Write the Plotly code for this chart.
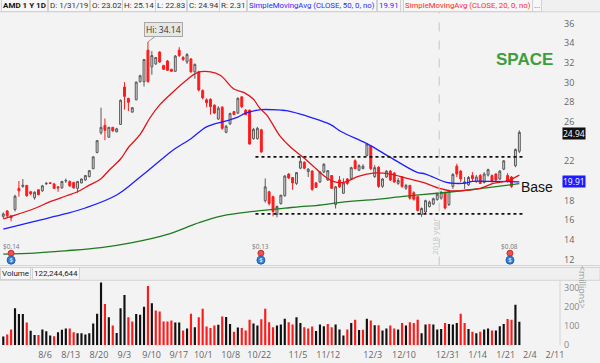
import plotly.graph_objects as go

# ---------------- data ----------------
opens = [16.40, 16.95, 16.45, 17.10, 19.25, 19.45, 19.55, 18.90, 18.30, 19.10,
         19.00, 19.70, 19.80, 19.70, 19.40, 19.30, 20.00, 19.95, 19.85, 19.25,
         19.80, 20.10, 20.45, 21.25, 22.90, 24.90, 25.65, 24.45, 25.45, 25.00,
         25.75, 29.55, 28.40, 27.00, 28.25, 30.10, 30.10, 33.30, 31.60, 31.90,
         33.10, 31.75, 32.20, 31.35, 31.15, 33.30, 32.55, 32.10, 32.40, 31.10,
         31.10, 29.20, 28.25, 28.30, 27.70, 26.30, 27.50, 24.95, 25.80, 27.05,
         26.90, 28.55, 27.20, 27.20, 24.30, 24.30, 25.20, 18.00, 18.90, 18.40,
         16.60, 17.70, 18.50, 20.70, 20.35, 19.75, 21.30, 21.90, 20.95, 21.00,
         19.80, 19.90, 20.90, 20.10, 20.55, 17.60, 20.10, 18.75, 20.20, 20.25,
         22.05, 21.10, 21.25, 22.60, 23.55, 20.45, 21.40, 19.45, 20.40, 21.00,
         20.80, 19.75, 20.40, 19.25, 19.55, 18.80, 18.40, 16.60, 16.85, 17.40,
         17.65, 18.10, 18.25, 18.80, 17.60, 19.45, 21.50, 21.00, 19.75, 19.60,
         20.55, 19.95, 20.55, 19.85, 20.60, 20.55, 20.70, 20.20, 21.20, 20.55,
         20.40, 21.55, 23.02]
highs = [16.80, 17.05, 16.50, 18.60, 20.00, 20.20, 19.60, 19.00, 18.95, 19.15,
         19.60, 19.90, 19.90, 19.80, 19.45, 20.00, 20.25, 20.05, 19.90, 20.00,
         20.25, 20.60, 21.10, 22.50, 24.15, 27.45, 26.35, 25.50, 25.50, 25.40,
         28.30, 30.05, 28.45, 27.50, 30.10, 30.80, 32.40, 34.14, 33.20, 32.60,
         33.20, 31.80, 32.30, 31.40, 32.80, 33.60, 32.70, 33.00, 32.50, 31.95,
         31.20, 29.30, 28.40, 28.40, 27.80, 27.60, 27.60, 25.70, 26.95, 27.10,
         28.50, 28.60, 27.30, 27.25, 25.40, 25.50, 25.30, 20.25, 19.00, 18.50,
         17.50, 18.60, 20.60, 20.80, 20.40, 20.90, 22.40, 22.00, 21.30, 21.10,
         19.90, 21.00, 21.80, 21.10, 20.60, 19.50, 20.50, 20.25, 20.30, 21.45,
         22.20, 21.70, 21.70, 23.85, 23.60, 21.60, 21.50, 20.30, 21.10, 21.10,
         20.90, 20.30, 20.50, 19.70, 19.60, 18.95, 18.50, 17.30, 18.10, 18.00,
         18.30, 18.80, 19.00, 18.90, 19.10, 20.80, 21.75, 21.10, 20.40, 20.50,
         20.90, 20.60, 20.70, 20.90, 21.25, 20.65, 20.80, 21.10, 22.10, 20.80,
         20.50, 23.30, 25.14]
lows = [16.20, 16.30, 15.90, 16.90, 18.40, 19.30, 18.40, 18.55, 18.10, 18.55,
        18.90, 19.60, 19.70, 19.20, 18.90, 19.20, 19.80, 19.40, 19.20, 18.80,
        19.75, 20.00, 20.35, 21.20, 22.80, 24.70, 24.15, 24.40, 25.00, 24.95,
        25.70, 27.25, 27.10, 26.95, 28.20, 30.00, 29.60, 30.00, 30.80, 31.80,
        32.00, 31.30, 31.20, 31.10, 31.10, 32.60, 32.20, 31.90, 31.00, 30.40,
        29.10, 28.30, 27.50, 26.75, 26.80, 26.20, 25.20, 24.85, 25.70, 26.70,
        26.80, 27.40, 26.70, 23.70, 24.20, 24.20, 22.85, 17.80, 17.50, 16.40,
        16.30, 17.60, 18.40, 20.20, 19.10, 19.60, 21.20, 21.20, 20.40, 19.00,
        19.30, 19.80, 20.80, 20.00, 19.20, 17.20, 19.30, 18.70, 19.60, 20.10,
        21.20, 21.00, 21.20, 22.50, 21.10, 20.30, 19.30, 19.30, 20.30, 20.00,
        19.80, 19.60, 19.30, 19.10, 18.10, 18.00, 16.90, 16.35, 16.70, 17.30,
        17.55, 18.00, 18.10, 17.10, 17.45, 19.20, 20.40, 19.90, 19.20, 19.50,
        19.95, 19.80, 19.70, 19.75, 20.45, 19.80, 19.90, 20.10, 21.10, 19.85,
        19.30, 21.40, 22.83]
closes = [16.65, 16.45, 16.25, 18.45, 19.00, 19.55, 18.50, 18.70, 18.85, 18.60,
          19.50, 19.75, 19.75, 19.25, 19.30, 19.95, 20.05, 19.50, 19.30, 19.95,
          20.20, 20.55, 21.05, 22.45, 24.10, 25.45, 25.15, 25.45, 25.10, 25.30,
          28.20, 28.60, 28.00, 27.45, 30.05, 30.70, 32.35, 30.10, 32.75, 32.55,
          32.10, 31.35, 31.25, 31.15, 32.70, 32.75, 32.35, 32.85, 31.10, 31.85,
          29.25, 28.45, 27.95, 27.55, 26.90, 27.40, 25.35, 25.55, 26.85, 26.75,
          28.40, 27.55, 26.75, 23.75, 25.25, 25.35, 22.95, 19.40, 17.70, 16.90,
          17.40, 18.55, 20.50, 20.30, 19.80, 20.85, 22.00, 21.30, 21.20, 19.15,
          19.35, 20.90, 21.70, 21.05, 19.25, 19.40, 19.40, 19.80, 19.75, 21.35,
          21.25, 21.55, 21.50, 23.75, 21.25, 21.35, 19.45, 20.20, 21.00, 20.10,
          19.90, 20.05, 19.45, 19.55, 18.25, 18.15, 17.00, 17.20, 18.00, 17.85,
          18.20, 18.65, 18.85, 17.25, 19.00, 20.65, 20.70, 20.20, 19.90, 20.35,
          20.25, 20.40, 19.75, 20.70, 21.15, 19.95, 20.10, 21.00, 22.05, 19.95,
          19.45, 23.20, 24.94]
volumes = [45, 56, 82, 193, 162, 162, 118, 75, 53, 53,
           82, 72, 51, 46, 67, 80, 87, 87, 67, 62,
           62, 56, 62, 113, 164, 327, 215, 145, 102, 63,
           193, 261, 145, 123, 162, 158, 200, 308, 219, 181,
           176, 123, 123, 128, 118, 118, 77, 87, 164, 94,
           145, 190, 97, 89, 102, 106, 149, 147, 111, 70,
           92, 89, 77, 133, 113, 102, 135, 190, 120, 94,
           102, 108, 138, 120, 108, 145, 116, 94, 87, 97,
           74, 108, 99, 111, 94, 108, 82, 51, 82, 116,
           133, 79, 80, 138, 128, 104, 104, 77, 87, 103,
           87, 82, 116, 103, 120, 116, 132, 62, 108, 111,
           108, 82, 85, 116, 111, 108, 116, 164, 116, 85,
           70, 62, 70, 82, 87, 77, 77, 99, 111, 136,
           132, 210, 122]

# moving averages, sampled along the drawn curves (bar index, value)
sma20_idx = [0, 2, 8, 12, 16, 19, 22, 25, 27, 30, 32, 35, 37.5, 40, 43, 47, 49.5, 53,
             55.5, 59, 61.5, 64, 65.6, 67.4, 70.8, 73.3, 76.7, 79.3, 81.8, 84.4, 87,
             91, 94.6, 99, 103, 107.4, 111.7, 114.3, 118.5, 122, 125.3, 128.8, 132]
sma20_val = [16.15, 16.4, 17.2, 17.9, 18.47, 18.9, 19.57, 20.23, 21.07, 22.23, 23.4,
             24.73, 26.4, 27.73, 28.9, 30.3, 31.0, 31.1, 30.75, 29.35, 29.0, 28.3,
             27.4, 26.7, 24.55, 23.5, 22.4, 21.5, 20.6, 19.95, 19.85, 20.5, 20.8,
             20.7, 20.3, 19.85, 19.23, 19.0, 19.05, 19.25, 19.75, 20.0, 20.6]
sma50_idx = [0, 8, 16, 21, 29, 35, 42, 44, 48, 52, 57, 60, 62, 66, 71, 72.5, 76,
             78.4, 83.6, 86.5, 93, 99, 105.7, 108, 113.4, 115.5, 118.5, 120, 125, 132]
sma50_val = [15.1, 15.9, 16.67, 17.25, 18.57, 20.4, 22.7, 23.3, 24.3, 25.5, 26.1,
             26.5, 26.9, 27.25, 27.2, 27.15, 26.8, 26.5, 25.75, 25.0, 23.8, 22.4,
             20.9, 20.7, 19.85, 19.75, 19.8, 19.95, 19.95, 19.91]
sma200_idx = [0, 8, 16, 25, 33, 42, 48, 50, 56, 64, 72, 76, 80, 88, 94, 103, 111, 120, 132]
sma200_val = [12.57, 12.67, 12.9, 13.23, 13.73, 14.57, 15.45, 15.75, 16.45, 16.9,
              17.23, 17.4, 17.5, 17.9, 18.07, 18.45, 18.75, 19.13, 19.73]

base_levels = [22.45, 16.65]
base_span = [64.5, 133.2]

# earnings events (bar index, label)
earn_idx = [2, 65.9, 129.6]
earn_text = ["$0.14", "$0.13", "$0.08"]

tick_idx = [10.67, 17.24, 24.48, 30.95, 37.95, 44.9, 51.15, 58.16, 65.48, 75.37,
            83.12, 94.5, 102.5, 113.66, 121.33, 128.5, 134.7, 141.1]
tick_text = ["8/6", "8/13", "8/20", "9/3", "9/10", "9/17", "10/1", "10/8", "10/22",
             "11/5", "11/12", "12/3", "12/10", "12/31", "1/14", "1/21", "2/4", "2/11"]

# 20 and 24 are hidden behind the value bubbles in the reference
price_ticks = [12, 14, 16, 18, 22, 26, 28, 30, 32, 34, 36]
vol_ticks = [0, 100, 200, 300]

# ---------------- figure ----------------
W, H = 600, 363
PLOT_R = 560
idx = list(range(len(closes)))
vol_colors = ["#111111"] + ["#111111" if closes[i] >= closes[i - 1] else "#ff1a1a"
                            for i in range(1, len(closes))]

def py(px):
    return 1 - px / H

def pxx(px):
    return px / PLOT_R

FONT = "Open Sans"
HFONT = "Roboto"
fig = go.Figure()

fig.add_trace(go.Scatter(x=sma200_idx, y=sma200_val, mode="lines",
                         line=dict(color="#1f7a1f", width=1.3, shape="spline"),
                         hoverinfo="skip", showlegend=False))
fig.add_trace(go.Scatter(x=sma50_idx, y=sma50_val, mode="lines",
                         line=dict(color="#1f1fff", width=1.3, shape="spline"),
                         hoverinfo="skip", showlegend=False))
fig.add_trace(go.Scatter(x=sma20_idx, y=sma20_val, mode="lines",
                         line=dict(color="#e0141b", width=1.3, shape="spline"),
                         hoverinfo="skip", showlegend=False))
for lvl in base_levels:
    fig.add_trace(go.Scatter(x=base_span, y=[lvl, lvl], mode="lines",
                             line=dict(color="#111111", width=1.6, dash="dot"),
                             hoverinfo="skip", showlegend=False))

fig.add_trace(go.Candlestick(
    x=idx, open=opens, high=highs, low=lows, close=closes,
    increasing=dict(line=dict(color="#5a5a5a", width=1), fillcolor="#d8d8d8"),
    decreasing=dict(line=dict(color="#ff1a1a", width=1), fillcolor="#ff1a1a"),
    whiskerwidth=0, showlegend=False, xaxis="x", yaxis="y"))

fig.add_trace(go.Scatter(x=earn_idx, y=[12.65] * len(earn_idx), mode="markers",
                         marker=dict(color="#f05050", size=6, line=dict(color="#c03030", width=1)),
                         hoverinfo="skip", showlegend=False))
fig.add_trace(go.Scatter(x=earn_idx, y=[11.95] * len(earn_idx), mode="markers+text",
                         marker=dict(color="#3a7fd0", size=8, line=dict(color="#2060b0", width=1)),
                         text=["$"] * len(earn_idx), textposition="middle center",
                         textfont=dict(size=6, color="white", family=FONT),
                         hoverinfo="skip", showlegend=False, cliponaxis=False))

fig.add_trace(go.Bar(x=idx, y=volumes, marker=dict(color=vol_colors, line=dict(width=0)),
                     xaxis="x2", yaxis="y2", showlegend=False))

x_range = [-0.84, 142.4]
price_dom = [py(270), py(12)]
vol_dom = [py(351), py(285)]

fig.update_layout(
    width=W, height=H,
    margin=dict(l=0, r=W - PLOT_R, t=0, b=0),
    paper_bgcolor="#f3f3f3", plot_bgcolor="#f3f3f3",
    font=dict(family=FONT, size=9, color="#555555"),
    bargap=0.45, boxgap=0.3,
    xaxis=dict(domain=[0, 1], range=x_range, anchor="y", showticklabels=False,
               showgrid=False, zeroline=False, rangeslider=dict(visible=False),
               fixedrange=True),
    yaxis=dict(domain=price_dom, range=[11.4, 37.2], side="right", anchor="x",
               tickvals=price_ticks, showgrid=False, zeroline=False,
               tickfont=dict(size=9, color="#666666"), ticks="", ticklabelstandoff=3),
    xaxis2=dict(domain=[0, 1], range=x_range, anchor="y2", matches="x",
                tickvals=tick_idx, ticktext=tick_text, showgrid=False, zeroline=False,
                tickfont=dict(size=9, color="#666666"), ticks="", ticklabelstandoff=3),
    yaxis2=dict(domain=vol_dom, range=[0, 338], side="right", anchor="x2",
                tickvals=vol_ticks, showgrid=False, zeroline=False,
                tickfont=dict(size=9, color="#888888"), ticks="", ticklabelstandoff=3),
)

shapes = []
shapes.append(dict(type="line", xref="x", yref="paper", x0=111.5, x1=111.5,
                   y0=price_dom[0], y1=price_dom[1],
                   line=dict(color="#c6c6c6", width=1, dash="dash")))
shapes.append(dict(type="rect", xref="paper", yref="paper", x0=0, x1=W / PLOT_R,
                   y0=py(12), y1=1, fillcolor="#f0f0f0", line=dict(width=0), layer="below"))
shapes.append(dict(type="line", xref="paper", yref="paper", x0=0, x1=W / PLOT_R,
                   y0=py(12), y1=py(12), line=dict(color="#d4d4d4", width=1)))
shapes.append(dict(type="line", xref="paper", yref="paper", x0=0, x1=W / PLOT_R,
                   y0=py(270), y1=py(270), line=dict(color="#d4d4d4", width=1)))
shapes.append(dict(type="rect", xref="paper", yref="paper", x0=0, x1=W / PLOT_R,
                   y0=py(285), y1=py(272), fillcolor="#f0f0f0",
                   line=dict(color="#d4d4d4", width=1)))
shapes.append(dict(type="line", xref="paper", yref="paper", x0=1, x1=1,
                   y0=py(351), y1=py(285), line=dict(color="#d4d4d4", width=1)))
fig.update_layout(shapes=shapes)

ann = []
def box(text, left, ypx, color="#333333", bold=False, size=8):
    t = "<b>%s</b>" % text if bold else text
    ann.append(dict(text=t, xref="paper", yref="paper", x=pxx(left), y=py(ypx),
                    xanchor="left", yanchor="middle", showarrow=False,
                    font=dict(family=HFONT, size=size, color=color),
                    bgcolor="#f7f7f7", bordercolor="#d2d2d2", borderwidth=1, borderpad=1))

hdr_y = 6
box("AMD 1 Y 1D", 1, hdr_y, "#111111", bold=True)
box("D: 1/31/19", 48, hdr_y)
box("O: 23.02", 90, hdr_y)
box("H: 25.14", 122, hdr_y)
box("L: 22.83", 155, hdr_y)
box("C: 24.94", 187, hdr_y)
box("R: 2.31", 219, hdr_y)
box("SimpleMovingAvg (CLOSE, 50, 0, no)", 247, hdr_y, "#2a2aff", size=7.8)
box("19.91", 377, hdr_y, "#2a2aff", size=7.8)
box("SimpleMovingAvg (CLOSE, 20, 0, no)", 403, hdr_y, "#ff2a2a", size=7.8)
box("...", 532, hdr_y, "#555555")

box("Volume", 0, 278.5, "#222222")
box("122,244,644", 32, 278.5, "#222222")

ann.append(dict(text="24.94", xref="paper", yref="y", x=pxx(562), y=24.8,
                xanchor="left", yanchor="middle", showarrow=False,
                font=dict(family=FONT, size=8.5, color="white"), bgcolor="#111111", borderpad=0))
ann.append(dict(text="19.91", xref="paper", yref="y", x=pxx(562), y=19.91,
                xanchor="left", yanchor="middle", showarrow=False,
                font=dict(family=FONT, size=8.5, color="white"), bgcolor="#1c1cff", borderpad=0))

ann.append(dict(text="Hi: 34.14", xref="x", yref="y", x=37, y=34.14, ax=16, ay=-12,
                showarrow=True, arrowhead=0, arrowwidth=1, arrowcolor="#9a9a9a",
                font=dict(family=FONT, size=8.5, color="#333333"),
                bgcolor="#e6e6e6", bordercolor="#a8a8a8", borderwidth=1, borderpad=1))

for ei, et in zip(earn_idx, earn_text):
    ann.append(dict(text=et, xref="x", yref="y", x=ei, y=13.3, showarrow=False,
                    font=dict(family=FONT, size=6.5, color="#777777")))

ann.append(dict(text="<b>SPACE</b>", xref="x", yref="y", x=133.4, y=32.4, showarrow=False,
                font=dict(family="Liberation Sans Narrow, Arial Narrow, sans-serif", size=17,
                          color="#3c9e3c")))
ann.append(dict(text="Base", xref="x", yref="y", x=136.6, y=19.35, showarrow=False,
                font=dict(family="Liberation Sans, Arial, sans-serif", size=14, color="#111111")))
ann.append(dict(text="2018 year", xref="x", yref="y", x=110.2, y=14.3, showarrow=False,
                textangle=-90, font=dict(family=FONT, size=8, color="#c4c4c4")))
ann.append(dict(text="&lt;millions&gt;", xref="paper", yref="paper", x=pxx(591), y=py(316),
                showarrow=False, textangle=90, font=dict(family=FONT, size=9, color="#999999")))
fig.update_layout(annotations=ann)

fig.write_html("out.html", config={"displayModeBar": False},
               post_script="document.body.style.margin='0';document.body.style.padding='0';")
